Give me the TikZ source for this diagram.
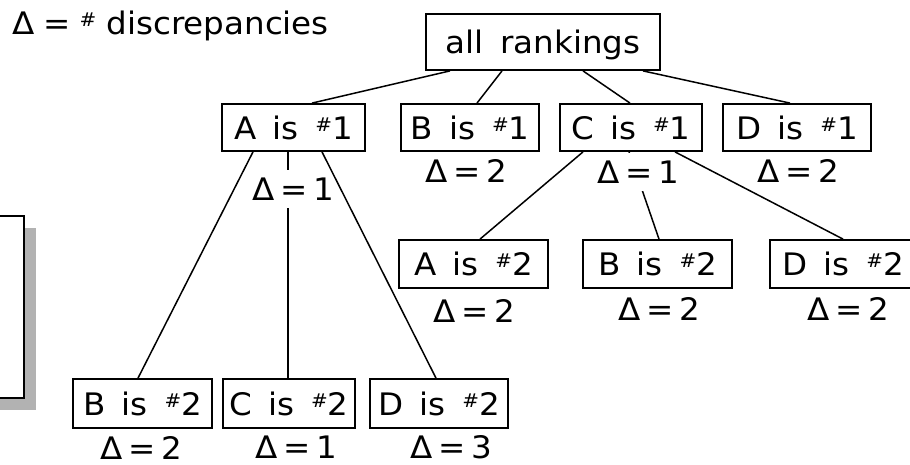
\documentclass[tikz,border=0pt]{standalone}
\usepackage{fontspec}
\setmainfont{DejaVu Sans}[FakeStretch=1.05,WordSpace=1.6]
\newcommand\hsh{\raisebox{8pt}{\fontsize{19}{19}\selectfont\#}}
\newcommand\dlt[1]{Δ\hspace{6pt}=\hspace{6pt}#1}
\begin{document}
\begin{tikzpicture}[x=1pt,y=-1pt,
  every node/.style={font=\fontsize{31}{36}\selectfont, text depth=0pt},
  box/.style={draw, line width=1.8pt, fill=white, inner sep=0pt, minimum height=47pt},
  conn/.style={line width=1.5pt},
  lbl/.style={inner sep=0pt, anchor=west},
  lblw/.style={inner sep=0pt, anchor=west, fill=white, minimum height=38pt}]
\clip (0,0) rectangle (910,465);
\fill[white] (0,0) rectangle (910,465);
% left partial box with shadow
\fill[gray!60] (25,228) rectangle (36,410);
\fill[gray!60] (-5,399) rectangle (36,410);
\draw[line width=1.8pt, fill=white] (-20,216) rectangle (24,398);
% title
\node[anchor=base west, inner sep=0pt] (title) at (12,35) {Δ\hspace{9pt}=\hspace{9pt}\hsh\hspace{10pt}discrepancies};
% boxes
\node[box, minimum width=234pt, minimum height=56pt] (all) at (543,42) {all rankings};
\node[box, minimum width=143pt] (A1) at (293.5,127.5) {A is \hsh1};
\node[box, minimum width=138pt] (B1) at (470,127.5) {B is \hsh1};
\node[box, minimum width=142pt] (C1) at (631,127.5) {C is \hsh1};
\node[box, minimum width=148pt] (D1) at (797,127.5) {D is \hsh1};
\node[box, minimum width=149pt, minimum height=48pt] (A2r) at (473.5,264) {A is \hsh2};
\node[box, minimum width=149pt, minimum height=48pt] (B2r) at (657.5,264) {B is \hsh2};
\node[box, minimum width=146pt, minimum height=48pt] (D2r) at (843,264) {D is \hsh2};
\node[box, minimum width=139pt, minimum height=49pt] (B2) at (142.5,403.5) {B is \hsh2};
\node[box, minimum width=132pt, minimum height=49pt] (C2) at (289,403.5) {C is \hsh2};
\node[box, minimum width=138pt, minimum height=49pt] (D2) at (439,403.5) {D is \hsh2};
% connectors passing behind labels
\draw[conn] ([xshift=-5.5pt]A1.south) -- ([xshift=-1pt]C2.north);
\draw[conn] ([xshift=-2pt]C1.south) -- ([xshift=1.5pt]B2r.north);
% labels
\node[lblw] (dA1) at (252,189.5) {\dlt{1}};
\node[lbl] (dB1) at (425,171) {\dlt{2}};
\node[lblw] (dC1) at (597,172) {\dlt{1}};
\node[lbl] (dD1) at (757,171) {\dlt{2}};
\node[lbl] (dA2r) at (433,311) {\dlt{2}};
\node[lbl] (dB2r) at (618,309) {\dlt{2}};
\node[lbl] (dD2r) at (807,309) {\dlt{2}};
\node[lbl] (dB2) at (100,447.5) {\dlt{2}};
\node[lbl] (dC2) at (255,447) {\dlt{1}};
\node[lbl] (dD2) at (410,447) {\dlt{3}};
% other connectors
\draw[conn] ([xshift=-93pt]all.south) -- ([xshift=18.5pt]A1.north);
\draw[conn] ([xshift=-41pt]all.south) -- ([xshift=7pt]B1.north);
\draw[conn] ([xshift=40pt]all.south) -- ([xshift=-1pt]C1.north);
\draw[conn] ([xshift=100pt]all.south) -- ([xshift=-7pt]D1.north);
\draw[conn] ([xshift=-40.5pt]A1.south) -- ([xshift=-4.5pt]B2.north);
\draw[conn] ([xshift=28.5pt]A1.south) -- ([xshift=-3pt]D2.north);
\draw[conn] ([xshift=-48pt]C1.south) -- ([xshift=6.5pt]A2r.north);
\draw[conn] ([xshift=44pt]C1.south) -- ([xshift=0pt]D2r.north);
\end{tikzpicture}
\end{document}
